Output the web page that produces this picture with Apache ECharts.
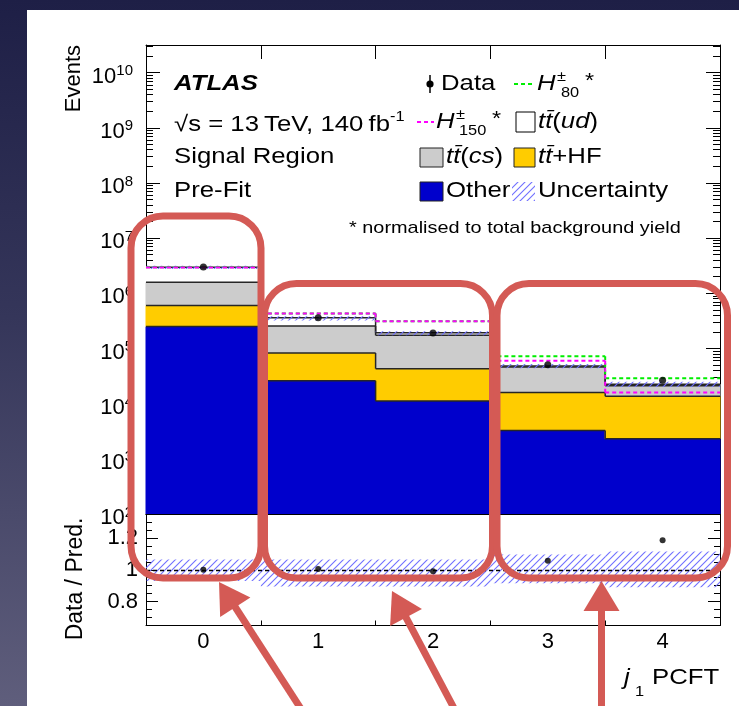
<!DOCTYPE html>
<html>
<head>
<meta charset="utf-8">
<script src="https://cdn.jsdelivr.net/npm/echarts@6/dist/echarts.min.js"></script>
<style>
  html, body { margin: 0; padding: 0; }
  body {
    width: 739px; height: 706px; overflow: hidden; position: relative;
    background: linear-gradient(180deg, #1e1f46 0%, #35365a 45%, #5f5e7c 100%);
  }
  #paper { position: absolute; left: 27px; top: 10px; width: 712px; height: 696px; background: #fff; }
  #chart { position: absolute; left: 0; top: 0; width: 739px; height: 706px; }
</style>
</head>
<body>
<div id="paper"></div>
<div id="chart"></div>
<script>
// ---- j1 PCFT bins ----
const bins = ['0', '1', '2', '3', '4'];

// Stacked background components (events per bin)
const other = [250000, 26000, 11200, 3250, 2300];
const ttHF  = [350000, 57000, 31800, 12750, 11300];
const ttcs  = [990000, 172000, 130000, 30000, 7400];
const ttud  = [1380000, 105000, 20000, 2000, 1400];

// Signal hypotheses (normalised to total background yield)
const hplus80  = [2950000, 430000, 310000, 72000, 29000];
const hplus150 = [2930000, 430000, 310000, 60000, 16000];

// Observed data
const dataEvents = [3000000, 362000, 191000, 50700, 26500];

// Ratio panel
const ratio   = [1.0, 1.005, 0.99, 1.057, 1.185];
const uncLow  = [0.93, 0.895, 0.895, 0.915, 0.89];
const uncHigh = [1.065, 1.065, 1.065, 1.095, 1.115];

// Axis tick values
const logMajors = [2, 3, 4, 5, 6, 7, 8, 9, 10];
const ratioMajors = [0.8, 1, 1.2];

// ---------------------------------------------------------------
const FONT = '"Liberation Sans", Arial, Helvetica, sans-serif';
const SX = 1.17;               // horizontal text stretch of the figure
const LMIN = 2, LMAX = 10.5;   // log10 range of the upper panel
const RMIN = 0.65, RMAX = 1.35;
const lg = v => (v > 0 ? Math.log10(v) : LMIN);

const logMinors = [];
for (let e = 2; e <= 10; e++) {
  for (let k = 2; k <= 9; k++) {
    const l = e + Math.log10(k);
    if (l <= LMAX) logMinors.push(l);
  }
}
const ratioMinors = [];
for (let k = 0; k <= 14; k++) ratioMinors.push(Math.round((RMIN + 0.05 * k) * 100) / 100);

// diagonal hatch pattern for the uncertainty
function hatch() {
  const c = document.createElement('canvas');
  c.width = 7; c.height = 7;
  const g = c.getContext('2d');
  g.strokeStyle = '#7070ff';
  g.lineWidth = 1.1;
  g.beginPath();
  g.moveTo(-1, 8); g.lineTo(8, -1);
  g.moveTo(-1, 1); g.lineTo(1, -1);
  g.moveTo(6, 8); g.lineTo(8, 6);
  g.stroke();
  return { image: c, repeat: 'repeat' };
}
const HATCH = hatch();

// ---- stacked histogram: fills, then step outlines on top ----
const layers = [
  { name: 'Other', vals: other, color: '#0000cc' },
  { name: 'ttHF', vals: ttHF, color: '#ffcc00' },
  { name: 'ttcs', vals: ttcs, color: '#cccccc' },
  { name: 'ttud', vals: ttud, color: '#ffffff' }
];
const cum = bins.map(() => 0);
const stackFill = [];
const stackLine = [];
layers.forEach(L => {
  const prevTop = [];
  const data = bins.map((b, i) => {
    const lo = cum[i];
    const hi = cum[i] + L.vals[i];
    cum[i] = hi;
    return [i, lg(lo), lg(hi)];
  });
  data.forEach((d, i) => prevTop.push(i > 0 ? data[i - 1][2] : d[2]));
  stackFill.push({
    type: 'custom', name: L.name, xAxisIndex: 0, yAxisIndex: 0, z: 2,
    encode: { x: 0, y: [1, 2] }, data,
    renderItem: (params, api) => {
      const i = api.value(0);
      const p0 = api.coord([i, api.value(1)]);
      const p1 = api.coord([i, api.value(2)]);
      const w = api.size([1, 0])[0];
      return {
        type: 'rect',
        shape: { x: p0[0] - w / 2 - 0.5, y: p1[1], width: w + 1, height: p0[1] - p1[1] },
        style: { fill: L.color }
      };
    }
  });
  stackLine.push({
    type: 'custom', xAxisIndex: 0, yAxisIndex: 0, z: 3,
    encode: { x: 0, y: 1 }, data: data.map((d, i) => [i, d[2], prevTop[i]]),
    renderItem: (params, api) => {
      const i = api.value(0);
      const p = api.coord([i, api.value(1)]);
      const q = api.coord([i, api.value(2)]);
      const w = api.size([1, 0])[0];
      const xl = p[0] - w / 2, xr = p[0] + w / 2;
      const st = { stroke: '#262626', lineWidth: 1.5 };
      return {
        type: 'group',
        children: [
          { type: 'line', shape: { x1: xl, y1: p[1], x2: xr, y2: p[1] }, style: st },
          { type: 'line', shape: { x1: xl, y1: q[1], x2: xl, y2: p[1] }, style: st }
        ]
      };
    }
  });
});
const total = cum.slice();

function bandSeries(xi, yi, data, z) {
  return {
    type: 'custom', xAxisIndex: xi, yAxisIndex: yi, z,
    encode: { x: 0, y: [1, 2] }, data,
    renderItem: (params, api) => {
      const i = api.value(0);
      const p0 = api.coord([i, api.value(1)]);
      const p1 = api.coord([i, api.value(2)]);
      const w = api.size([1, 0])[0];
      return {
        type: 'rect',
        shape: { x: p0[0] - w / 2, y: p1[1], width: w, height: p0[1] - p1[1] },
        style: { fill: HATCH, stroke: null }
      };
    }
  };
}

function stepSeries(vals, color, z) {
  const data = vals.map((v, i) => [i, lg(v), lg(i > 0 ? vals[i - 1] : v)]);
  return {
    type: 'custom', xAxisIndex: 0, yAxisIndex: 0, z,
    encode: { x: 0, y: 1 }, data,
    renderItem: (params, api) => {
      const i = api.value(0);
      const p = api.coord([i, api.value(1)]);
      const q = api.coord([i, api.value(2)]);
      const w = api.size([1, 0])[0];
      const xl = p[0] - w / 2, xr = p[0] + w / 2;
      const st = { stroke: color, lineWidth: 2, lineDash: [4, 3] };
      return {
        type: 'group',
        children: [
          { type: 'line', shape: { x1: xl, y1: p[1], x2: xr, y2: p[1] }, style: st },
          { type: 'line', shape: { x1: xl, y1: q[1], x2: xl, y2: p[1] }, style: st }
        ]
      };
    }
  };
}

// ---- axes ----
const black = { color: '#000', width: 1 };
function xAx(grid, pos, tickLen, label) {
  return {
    type: 'category', gridIndex: grid, data: bins, position: pos,
    axisLine: { show: true, lineStyle: black },
    axisTick: { show: tickLen > 0, inside: true, length: tickLen, interval: 0, lineStyle: black },
    axisLabel: label ? { show: true, interval: 0, fontFamily: FONT, fontSize: 22, color: '#000', margin: 5 } : { show: false },
    splitLine: { show: false }
  };
}
function yAx(grid, pos, min, max, ticks, len, label, line) {
  return {
    type: 'value', gridIndex: grid, position: pos, min, max,
    axisLine: { show: !!line, lineStyle: black },
    axisTick: { show: true, inside: true, length: len, customValues: ticks, lineStyle: black },
    axisLabel: label || { show: false },
    splitLine: { show: false }
  };
}
const logLabel = {
  show: true, customValues: logMajors, margin: 13,
  formatter: v => '{b|10}{s|' + Math.round(v) + '}',
  rich: {
    b: { fontFamily: FONT, fontSize: 22, color: '#000', lineHeight: 30, verticalAlign: 'bottom' },
    s: { fontFamily: FONT, fontSize: 15, color: '#000', lineHeight: 15, verticalAlign: 'bottom', padding: [0, 0, 9, 0] }
  }
};
const ratioLabel = {
  show: true, customValues: ratioMajors, margin: 8,
  fontFamily: FONT, fontSize: 22, color: '#000',
  formatter: v => (Math.abs(v - 1) < 1e-9 ? '1' : v.toFixed(1))
};

// ---- text & legend ----
function T(x, y, text, o = {}) {
  return {
    type: 'text', x, y, scaleX: o.sx == null ? SX : o.sx, rotation: o.rot || 0, z: 50,
    style: {
      text, fontFamily: FONT, fontSize: o.size || 22,
      fontStyle: o.italic ? 'italic' : 'normal', fontWeight: o.bold ? 'bold' : 'normal',
      fill: '#000', align: o.align || 'left', verticalAlign: 'middle', rich: o.rich
    }
  };
}
const tokI = { fontFamily: FONT, fontSize: 22, fontStyle: 'italic', fill: '#000' };
const tokN = { fontFamily: FONT, fontSize: 22, fill: '#000' };
const TT = 't\u0074\u0304';

function box(x, y, w, h, fill, stroke) {
  return { type: 'rect', z: 50, shape: { x, y, width: w, height: h },
    style: { fill, stroke: stroke || null, lineWidth: 1 } };
}
function dash(x1, x2, y, color) {
  return { type: 'line', z: 50, shape: { x1, y1: y, x2, y2: y },
    style: { stroke: color, lineWidth: 2, lineDash: [4, 3] } };
}

const R1 = 84, R2 = 122, R3 = 157, R4 = 191;
const texts = [
  T(174, R1, 'ATLAS', { bold: true, italic: true }),
  T(174, R2, '{n|\u221As = 13\u2009TeV, 140\u2009fb}{s|-1}', {
    rich: {
      n: { fontFamily: FONT, fontSize: 22, fill: '#000', lineHeight: 28, verticalAlign: 'bottom' },
      s: { fontFamily: FONT, fontSize: 14, fill: '#000', lineHeight: 14, verticalAlign: 'bottom', padding: [0, 0, 12, 0] }
    }
  }),
  T(174, R3, 'Signal Region'),
  T(174, R4, 'Pre-Fit'),

  // Data
  { type: 'line', z: 50, shape: { x1: 430, y1: 75, x2: 430, y2: 93 }, style: { stroke: '#000', lineWidth: 1.5 } },
  { type: 'circle', z: 51, shape: { cx: 430, cy: R1, r: 3.6 }, style: { fill: '#000' } },
  T(441, R1, 'Data'),

  // H+- 80
  dash(514, 532, R1, '#00ee00'),
  T(537, R1, 'H', { italic: true }),
  T(557, R1 - 7, '\u00B1', { size: 14 }),
  T(561, R1 + 9, '80', { size: 14 }),
  T(585, R1 - 3, '*', { size: 20 }),

  // H+- 150
  dash(417, 434, R2, '#ff00ff'),
  T(436, R2, 'H', { italic: true }),
  T(456, R2 - 7, '\u00B1', { size: 14 }),
  T(459, R2 + 9, '150', { size: 14 }),
  T(492, R2 - 3, '*', { size: 20 }),

  // tt(ud)
  box(516, 112, 19, 20, '#fff', '#000'),
  T(538, R2, '{i|' + TT + '}{n|(}{i|ud}{n|)}', { rich: { i: tokI, n: tokN } }),

  // tt(cs), tt+HF
  box(420, 148, 23, 19, '#cccccc', '#222'),
  T(446, R3, '{i|' + TT + '}{n|(}{i|cs}{n|)}', { rich: { i: tokI, n: tokN } }),
  box(514, 148, 21, 19, '#ffcc00', '#222'),
  T(538, R3, '{i|' + TT + '}{n|+HF}', { rich: { i: tokI, n: tokN } }),

  // Other, Uncertainty
  box(420, 182, 23, 19, '#0000cc', '#222'),
  T(446, R4, 'Other'),
  box(512, 182, 23, 19, HATCH, null),
  T(538, R4, 'Uncertainty'),

  T(349, 228, '* normalised to total background yield', { size: 17 }),

  // axis titles
  T(74, 45, 'Events', { rot: Math.PI / 2, align: 'right', sx: 1 }),
  T(76, 579, 'Data / Pred.', { rot: Math.PI / 2, align: 'center', sx: 1, size: 23 }),
  T(624, 678, 'j', { italic: true }),
  T(635, 692, '1', { size: 14 }),
  T(652, 678, 'PCFT')
];

// ---- red highlight frames and arrows ----
const RED = '#d45a55';
function frame(x, y, w, h) {
  return { type: 'rect', z: 100, shape: { x, y, width: w, height: h, r: 32 },
    style: { fill: null, stroke: RED, lineWidth: 7 } };
}
function arrow(tx, ty, hx, hy) {
  const dx = hx - tx, dy = hy - ty, L = Math.hypot(dx, dy);
  const ux = dx / L, uy = dy / L, nx = -uy, ny = ux;
  const HL = 30, HW = 18;
  const bx = hx - ux * HL, by = hy - uy * HL;
  return [
    { type: 'line', z: 100, shape: { x1: tx, y1: ty, x2: bx + ux * 2, y2: by + uy * 2 },
      style: { stroke: RED, lineWidth: 7 } },
    { type: 'polygon', z: 100,
      shape: { points: [[hx, hy], [bx + nx * HW, by + ny * HW], [bx - nx * HW, by - ny * HW]] },
      style: { fill: RED } }
  ];
}
const marks = [
  frame(131, 216, 130, 362),
  frame(264.5, 283.5, 228, 294.5),
  frame(497, 283.5, 230.5, 294.5),
  ...arrow(303, 712, 219, 582),
  ...arrow(456, 712, 392, 591),
  ...arrow(601.5, 712, 601.5, 581)
];

const option = {
  animation: false,
  backgroundColor: 'transparent',
  grid: [
    { left: 146, top: 45, width: 574, height: 469 },
    { left: 146, top: 514, width: 574, height: 111.5 }
  ],
  xAxis: [
    xAx(0, 'bottom', 13, false),
    xAx(0, 'top', 14, false),
    xAx(1, 'bottom', 5, true),
    xAx(1, 'top', 0, false)
  ],
  yAxis: [
    yAx(0, 'left', LMIN, LMAX, logMajors, 14, logLabel, true),
    yAx(0, 'left', LMIN, LMAX, logMinors, 7, null, false),
    yAx(0, 'right', LMIN, LMAX, logMajors, 14, null, true),
    yAx(0, 'right', LMIN, LMAX, logMinors, 7, null, false),
    yAx(1, 'left', RMIN, RMAX, ratioMajors, 12, ratioLabel, true),
    yAx(1, 'left', RMIN, RMAX, ratioMinors, 6, null, false),
    yAx(1, 'right', RMIN, RMAX, ratioMajors, 12, null, true),
    yAx(1, 'right', RMIN, RMAX, ratioMinors, 6, null, false)
  ],
  series: [
    ...stackFill,
    ...stackLine,
    bandSeries(0, 0, bins.map((b, i) => [i, lg(total[i] * uncLow[i]), lg(total[i] * uncHigh[i])]), 4),
    stepSeries(hplus80, '#00ee00', 5),
    stepSeries(hplus150, '#ff00ff', 6),
    {
      type: 'scatter', xAxisIndex: 0, yAxisIndex: 0, z: 7,
      symbol: 'circle', symbolSize: 7, itemStyle: { color: '#000' },
      data: dataEvents.map((v, i) => [i, lg(v)])
    },
    bandSeries(2, 4, bins.map((b, i) => [i, uncLow[i], uncHigh[i]]), 3),
    {
      type: 'scatter', xAxisIndex: 2, yAxisIndex: 4, z: 7,
      symbol: 'circle', symbolSize: 6, itemStyle: { color: '#000' },
      data: ratio.map((v, i) => [i, v]),
      markLine: {
        silent: true, symbol: 'none', label: { show: false },
        lineStyle: { color: '#000', type: [4, 3], width: 1.3 },
        data: [{ yAxis: 1 }]
      }
    }
  ],
  graphic: [...texts, ...marks]
};

const chart = echarts.init(document.getElementById('chart'), null, { renderer: 'canvas' });
chart.setOption(option);
</script>
</body>
</html>
